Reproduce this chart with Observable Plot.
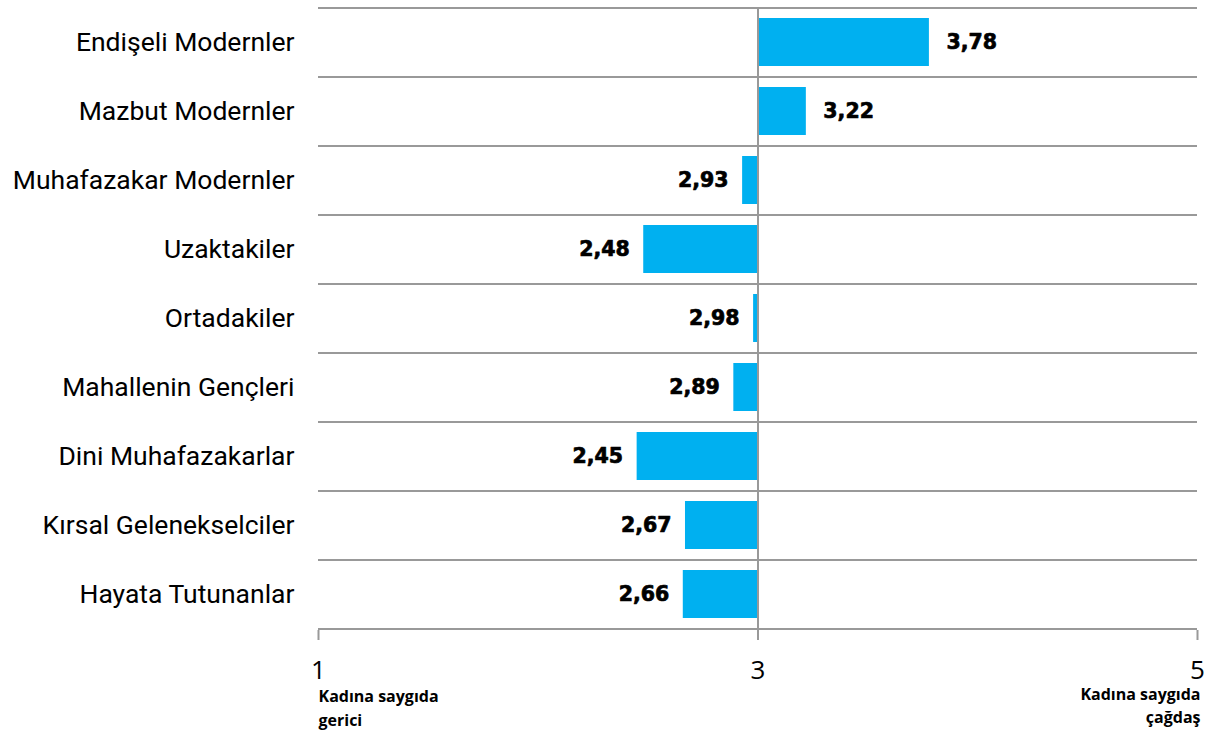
<!DOCTYPE html>
<html><head><meta charset="utf-8">
<script src="https://cdn.jsdelivr.net/npm/d3@7"></script>
<script src="https://cdn.jsdelivr.net/npm/@observablehq/plot@0.6"></script>
<style>body{margin:0;background:#fff;} svg{display:block;}</style>
</head><body><div id="chart"></div>
<script>
const categories = ["Endişeli Modernler","Mazbut Modernler","Muhafazakar Modernler","Uzaktakiler","Ortadakiler","Mahallenin Gençleri","Dini Muhafazakarlar","Kırsal Gelenekselciler","Hayata Tutunanlar"];
const values = [3.78,3.22,2.93,2.48,2.98,2.89,2.45,2.67,2.66];
const xTicks = [1,3,5];
const baseline = 3;
const leftNote = "Kadına saygıda\ngerici";
const rightNote = "Kadına saygıda\nçağdaş";

const data = categories.map((c,i)=>({cat:c, v:values[i]}));
const W = 1215, H = 731, mT = 7, mB = 101, mL = 318, mR = 18;
const step = (H - mT - mB) / categories.length;
const fmt = v => v.toFixed(2).replace(".", ",");
const grid = "#999";
const valStyle = {fontSize: 20.5, fontWeight: "bold", fontFamily:"DejaVu Sans", fill:"#000", stroke:"#000", strokeWidth: 0.7};

const plot = Plot.plot({
  width: W, height: H,
  marginTop: mT, marginBottom: mB, marginLeft: mL, marginRight: mR,
  style: {background:"#fff"},
  x: {domain:[1,5], ticks: xTicks, tickFormat: d=>String(d)},
  y: {domain: categories, paddingInner: 0.3, paddingOuter: 0.15, label: null},
  marks: [
    Plot.ruleY(categories, {y: d=>d, dy: -step/2, stroke: grid, strokeWidth: 2}),
    Plot.ruleY([categories[categories.length-1]], {y: d=>d, dy: step/2, stroke: grid, strokeWidth: 2}),
    Plot.barX(data, {y:"cat", x1: baseline, x2:"v", fill:"#00B0F0"}),
    Plot.ruleX([baseline], {stroke: grid, strokeWidth: 2}),
    Plot.axisX({ticks: xTicks, tickSize: 10, tickPadding: 20, stroke: grid, strokeWidth: 2, fontSize: 26, fontFamily:"Open Sans", fill:"#000", label: null, tickFormat: d=>String(d)}),
    Plot.axisY({tickSize: 0, tickPadding: 24, fontSize: 26.5, fontFamily: "Roboto", fill:"#000", label: null}),
    Plot.text(data.filter(d=>d.v>=baseline), {y:"cat", x:"v", text: d=>fmt(d.v), textAnchor:"start", dx: 17, ...valStyle}),
    Plot.text(data.filter(d=>d.v<baseline), {y:"cat", x:"v", text: d=>fmt(d.v), textAnchor:"end", dx: -14, ...valStyle}),
    Plot.text([leftNote], {x: 1, frameAnchor:"bottom", text: d=>d, textAnchor:"start", lineAnchor:"top", dy: 54, lineHeight: 1.5, fontSize: 16, fontWeight:"bold", fontFamily:"Open Sans", fill:"#000"}),
    Plot.text([rightNote], {x: 5, frameAnchor:"bottom", text: d=>d, textAnchor:"end", lineAnchor:"top", dy: 53, dx: 3, lineHeight: 1.45, fontSize: 16, fontWeight:"bold", fontFamily:"Open Sans", fill:"#000"})
  ]
});
document.getElementById("chart").appendChild(plot);
</script></body></html>
